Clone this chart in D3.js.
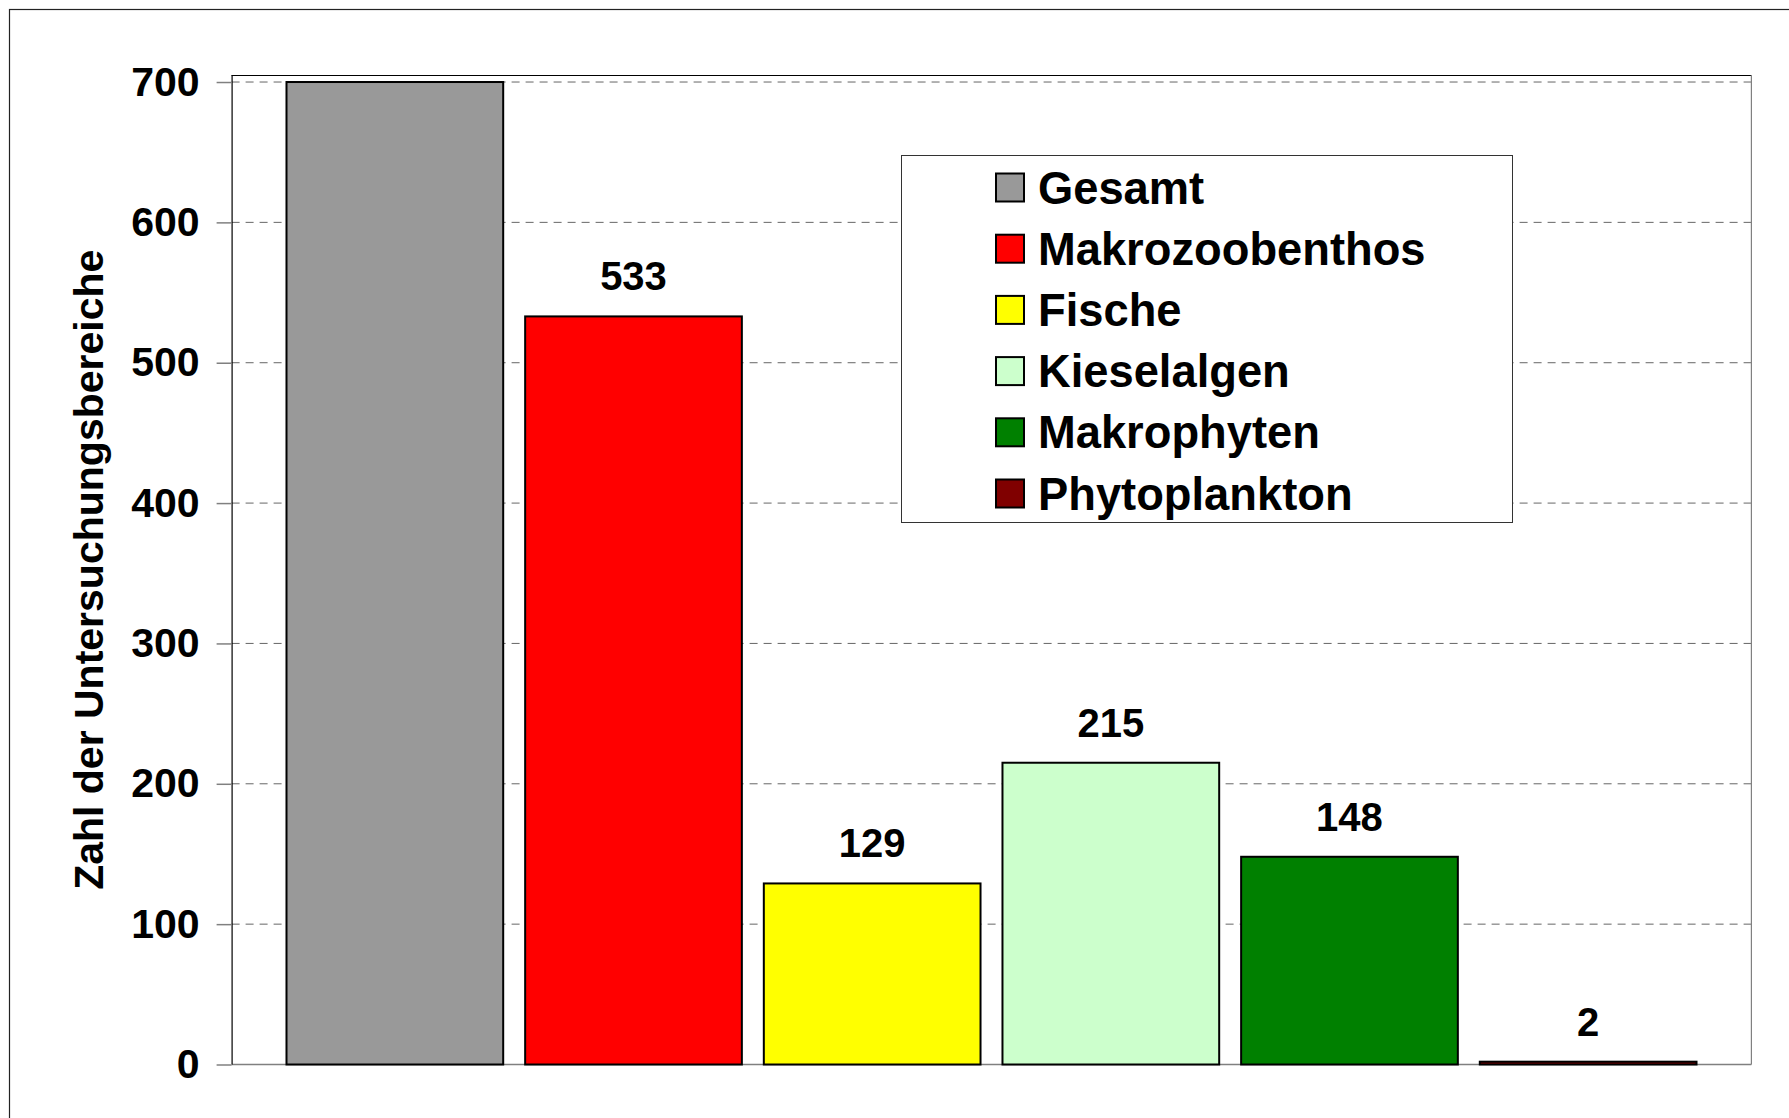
<!DOCTYPE html>
<html>
<head>
<meta charset="utf-8">
<script src="https://cdn.jsdelivr.net/npm/d3@7"></script>
<style>
  body { margin: 0; background: #fff; }
  text { font-family: "Liberation Sans", Arial, Helvetica, sans-serif; font-weight: bold; }
</style>
</head>
<body>
<div id="chart"></div>
<script>
const svgWidth = 1789;
const svgHeight = 1118;

// data
const groups = ["Gesamt", "Makrozoobenthos", "Fische", "Kieselalgen", "Makrophyten", "Phytoplankton"];
const counts = [700, 533, 129, 215, 148, 2];
const barColors = ["#999999", "#ff0000", "#ffff00", "#ccffcc", "#008000", "#800000"];
const yTicks = [0, 100, 200, 300, 400, 500, 600, 700];
const yTitle = "Zahl der Untersuchungsbereiche";

const plot = { left: 231.6, right: 1751.4, top: 75, bottom: 1064.5 };

const svg = d3.select("#chart")
  .append("svg")
  .attr("width", svgWidth)
  .attr("height", svgHeight);

// outer frame (runs off the right and bottom edge)
svg.append("rect")
  .attr("x", 9.5)
  .attr("y", 9.5)
  .attr("width", svgWidth + 10)
  .attr("height", svgHeight + 10)
  .attr("fill", "none")
  .attr("stroke", "#222")
  .attr("stroke-width", 1.2);

const xScale = d3.scaleBand()
  .domain(groups)
  .range([plot.left, plot.right])
  .paddingInner(0.092)
  .paddingOuter(0.23);

const yScale = d3.scaleLinear()
  .domain([0, 705])
  .range([plot.bottom, plot.top]);

// dashed gridlines
svg.append("g")
  .selectAll("line")
  .data(yTicks.filter(d => d > 0))
  .enter()
  .append("line")
  .attr("x1", plot.left)
  .attr("x2", plot.right)
  .attr("y1", d => yScale(d))
  .attr("y2", d => yScale(d))
  .attr("stroke", "#666")
  .attr("stroke-width", 1)
  .attr("stroke-dasharray", "8,6");

// plot frame
svg.append("line")
  .attr("x1", plot.left).attr("x2", plot.right)
  .attr("y1", plot.top + 0.5).attr("y2", plot.top + 0.5)
  .attr("stroke", "#000").attr("stroke-width", 1);
svg.append("line")
  .attr("x1", plot.right).attr("x2", plot.right)
  .attr("y1", plot.top).attr("y2", plot.bottom)
  .attr("stroke", "#808080").attr("stroke-width", 1.2);
svg.append("line")
  .attr("x1", plot.left).attr("x2", plot.right)
  .attr("y1", plot.bottom).attr("y2", plot.bottom)
  .attr("stroke", "#808080").attr("stroke-width", 1.5);

const leftAxis = d3.axisLeft(yScale)
  .tickValues(yTicks)
  .tickSize(15)
  .tickPadding(17)
  .tickSizeOuter(0);

const yAxis = svg.append("g")
  .attr("transform", `translate(${plot.left}, 0)`)
  .call(leftAxis);

yAxis.select(".domain")
  .attr("d", `M0.5,${plot.top}V${plot.bottom}`)
  .attr("stroke", "#000")
  .attr("stroke-width", 1.2);
yAxis.selectAll(".tick line")
  .attr("stroke", "#808080")
  .attr("stroke-width", 1.5);
yAxis.selectAll(".tick text")
  .attr("font-size", 41)
  .attr("fill", "#000");

svg.append("text")
  .attr("transform", `translate(103, ${(plot.top + plot.bottom) / 2}) rotate(-90)`)
  .attr("text-anchor", "middle")
  .attr("font-size", 41)
  .text(yTitle);

// bars
svg.append("g")
  .selectAll("rect")
  .data(counts)
  .enter()
  .append("rect")
  .attr("x", (d, i) => xScale(groups[i]))
  .attr("y", d => yScale(d))
  .attr("width", xScale.bandwidth())
  .attr("height", d => yScale(0) - yScale(d))
  .attr("fill", (d, i) => barColors[i])
  .attr("stroke", "#000")
  .attr("stroke-width", 2);

// value labels (none above Gesamt)
svg.append("g")
  .selectAll("text")
  .data(counts.map((d, i) => ({ name: groups[i], value: d })).filter((d, i) => i > 0))
  .enter()
  .append("text")
  .attr("x", d => xScale(d.name) + xScale.bandwidth() / 2)
  .attr("y", d => yScale(d.value) - 26)
  .attr("text-anchor", "middle")
  .attr("font-size", 40)
  .text(d => d.value);

// legend
const legend = svg.append("g");

legend.append("rect")
  .attr("x", 901.5)
  .attr("y", 155.5)
  .attr("width", 611)
  .attr("height", 367)
  .attr("fill", "#fff")
  .attr("stroke", "#333")
  .attr("stroke-width", 1);

const items = legend.selectAll("g.item")
  .data(groups)
  .enter()
  .append("g")
  .attr("class", "item")
  .attr("transform", (d, i) => `translate(0, ${187.5 + i * 61.2})`);

items.append("rect")
  .attr("x", 996)
  .attr("y", -14)
  .attr("width", 28)
  .attr("height", 28)
  .attr("fill", (d, i) => barColors[i])
  .attr("stroke", "#000")
  .attr("stroke-width", 2);

items.append("text")
  .attr("x", 1038)
  .attr("y", 16)
  .attr("font-size", 45.3)
  .text(d => d);
</script>
</body>
</html>
